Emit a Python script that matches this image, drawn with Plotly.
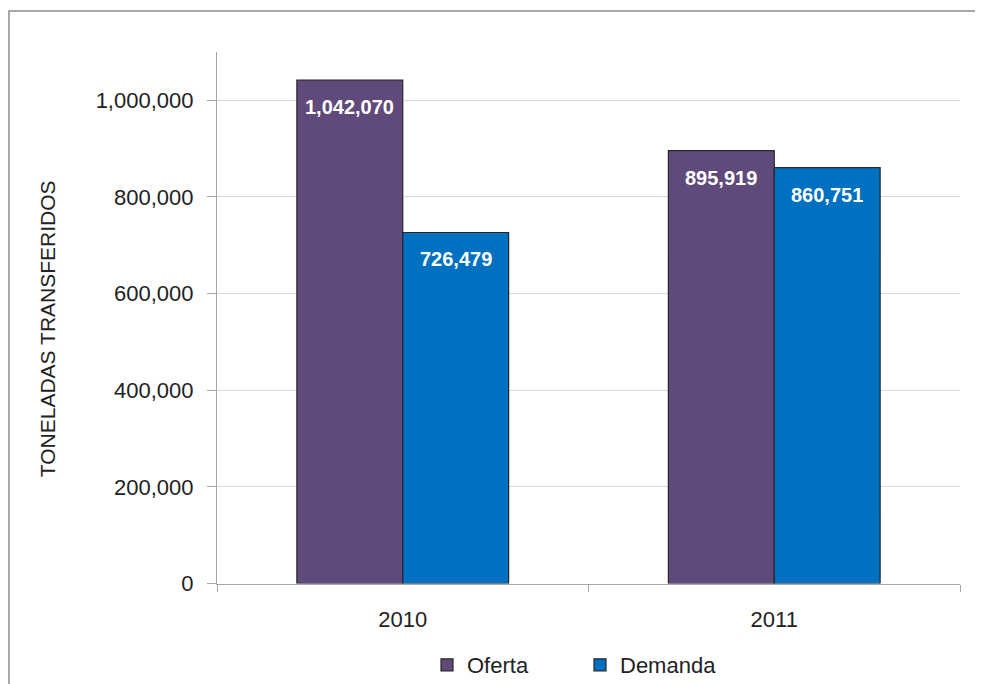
import plotly.graph_objects as go

years = ["2010", "2011"]
oferta = [1042070, 895919]
demanda = [726479, 860751]
series_names = ["Oferta", "Demanda"]
y_ticks = [0, 200000, 400000, 600000, 800000, 1000000]
y_title = "TONELADAS TRANSFERIDOS"

FONT = "Arial, Liberation Sans, sans-serif"

fig = go.Figure()
fig.add_trace(go.Bar(name=series_names[0], x=years, y=oferta,
                     marker=dict(color="#604A7B", line=dict(color="#262626", width=1.2))))
fig.add_trace(go.Bar(name=series_names[1], x=years, y=demanda,
                     marker=dict(color="#0070C0", line=dict(color="#262626", width=1.2))))

# value labels inside the bar tops
for vals, shift in ((oferta, -53), (demanda, 53)):
    for i, v in enumerate(vals):
        fig.add_annotation(x=i, y=v, xref="x", yref="y", text=f"<b>{v:,}</b>",
                           showarrow=False, xshift=shift, yshift=-27,
                           font=dict(family=FONT, size=20, color="white"))

# y axis title
fig.add_annotation(x=(39 - 209) / 743, y=(577 - 322) / 533, xref="paper", yref="paper",
                   text=y_title, textangle=-90, showarrow=False,
                   xanchor="center", yanchor="middle",
                   font=dict(family=FONT, size=21, color="#222222"))

# outer chart frame
fig.add_shape(type="rect", xref="paper", yref="paper",
              x0=(1 - 209) / 743, x1=1.2, y0=-0.4, y1=(577 - 3) / 533,
              line=dict(color="#8C8C8C", width=1.5), fillcolor="rgba(0,0,0,0)", layer="below")

fig.update_layout(
    width=975, height=676,
    margin=dict(l=209, r=23, t=44, b=99),
    paper_bgcolor="white", plot_bgcolor="white",
    barmode="group", bargap=0.43, bargroupgap=0,
    font=dict(family=FONT, size=22, color="#222222"),
    showlegend=True,
    legend=dict(orientation="h", xref="container", yref="container",
                x=572 / 975, xanchor="center", y=(676 - 657) / 676, yanchor="middle",
                font=dict(family=FONT, size=22, color="#222222"),
                itemwidth=30, entrywidth=108, traceorder="normal"),
)
fig.update_xaxes(type="category", showline=True, linecolor="#A6A6A6", linewidth=1.2,
                 ticks="outside", tickson="boundaries", ticklen=7, tickcolor="#A6A6A6",
                 ticklabelstandoff=16, showgrid=False, range=[-0.5, 1.5])
fig.update_yaxes(range=[0, 1100000], tickvals=y_ticks, tickformat=",",
                 showline=True, linecolor="#A6A6A6", linewidth=1.2,
                 ticks="outside", ticklen=9, tickcolor="#A6A6A6",
                 showgrid=True, gridcolor="#D9D9D9", gridwidth=1.2,
                 zeroline=False, ticklabelstandoff=9)

fig.write_html("out.html")
